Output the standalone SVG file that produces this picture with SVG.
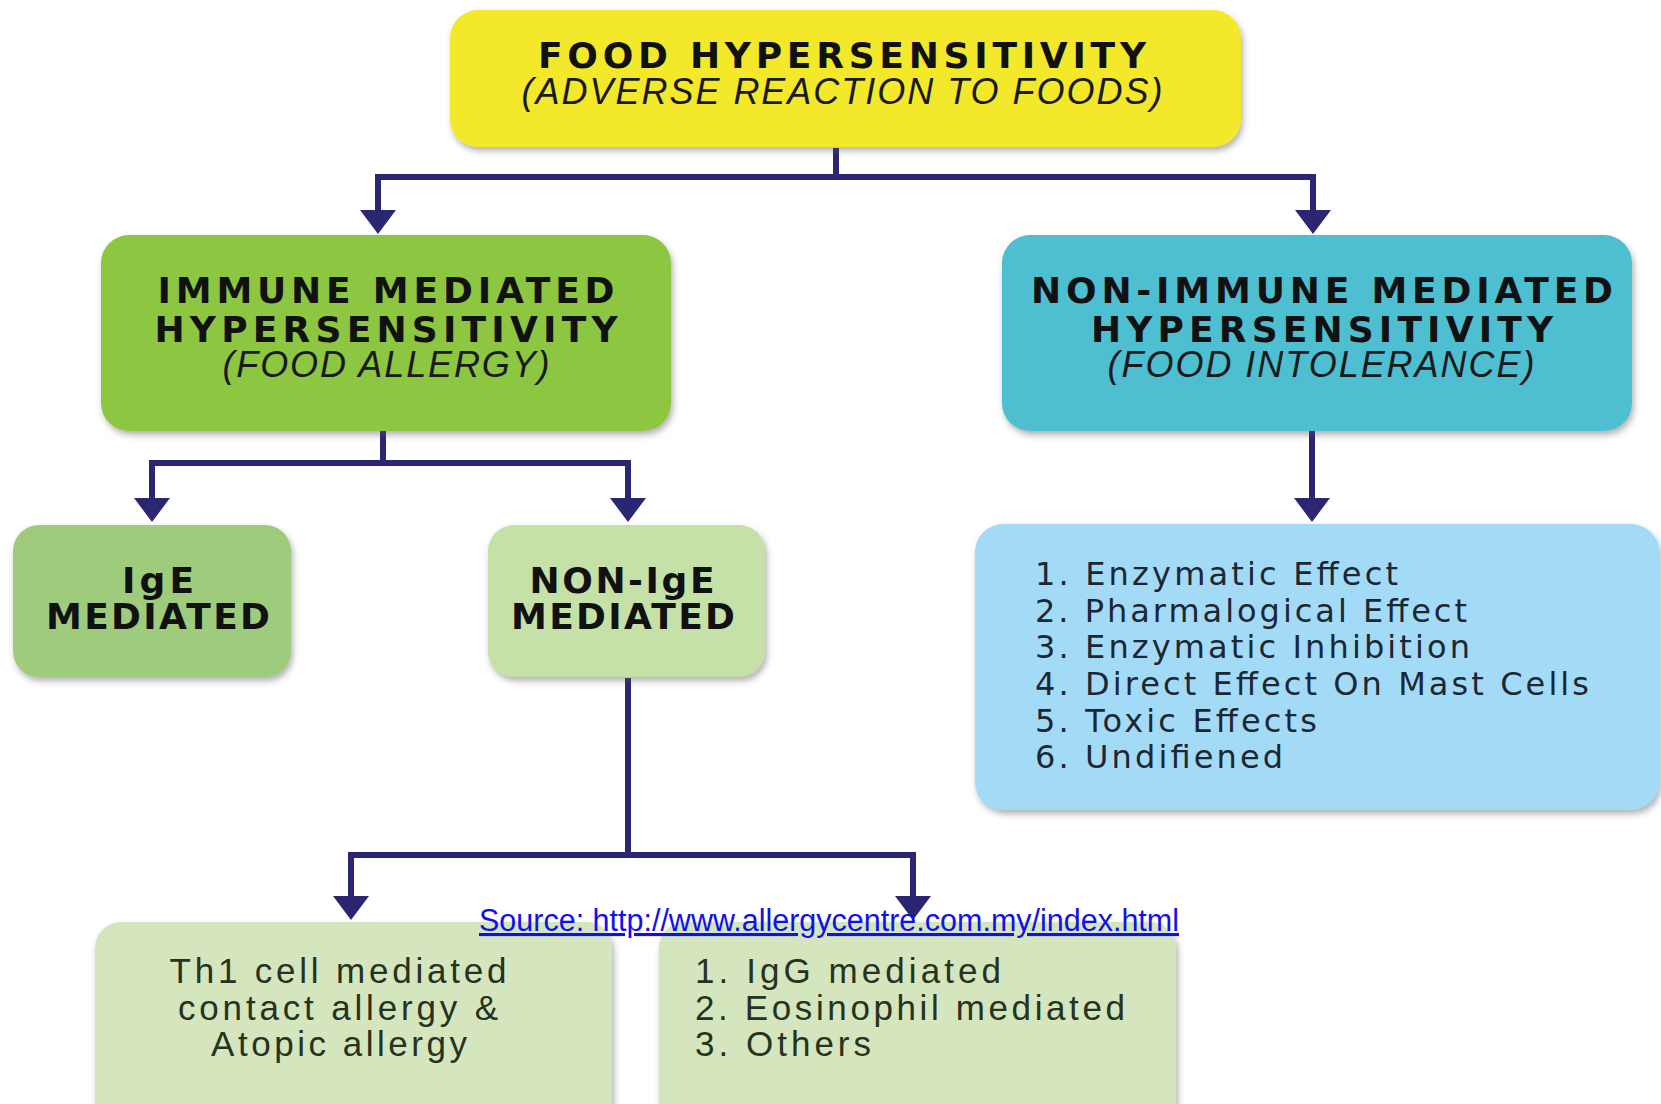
<svg xmlns="http://www.w3.org/2000/svg" width="1661" height="1104" viewBox="0 0 1661 1104">
  <defs>
    <filter id="shadow" x="-5%" y="-10%" width="112%" height="125%">
      <feDropShadow dx="2" dy="4" stdDeviation="3" flood-color="#555" flood-opacity="0.45"/>
    </filter>
    <marker id="arrow" markerUnits="userSpaceOnUse" viewBox="0 0 24 36" markerWidth="24" markerHeight="36" refX="12" refY="18" orient="auto">
      <path d="M0,0 L24,18 L0,36 Z" fill="#2b2672"/>
    </marker>
    <style>
      .box { filter: url(#shadow); }
      .head { font-family: "DejaVu Sans", Verdana, sans-serif; font-weight: bold; font-size: 36px; fill: #111; text-anchor: middle; }
      .sub { font-family: "Liberation Sans", Arial, sans-serif; font-style: italic; font-size: 36px; fill: #1a1a1a; text-anchor: middle; }
      .list { font-family: "DejaVu Sans", Verdana, sans-serif; font-size: 32px; fill: #1b2733; }
      .body { font-family: "Liberation Sans", Arial, sans-serif; font-size: 35px; fill: #263320; }
      .conn { fill: none; stroke: #2b2672; stroke-width: 6; stroke-linejoin: miter; }
      .src { font-family: "Liberation Sans", Arial, sans-serif; font-size: 31px; fill: #1010ee; text-decoration: underline; }
    </style>
  </defs>

  <rect width="1661" height="1104" fill="#ffffff"/>

  <!-- connectors -->
  <g id="connectors">
    <path class="conn" d="M836,148 V177"/>
    <path class="conn" d="M839,177 H378 V222" marker-end="url(#arrow)"/>
    <path class="conn" d="M833,177 H1313 V222" marker-end="url(#arrow)"/>
    <path class="conn" d="M383,431 V463"/>
    <path class="conn" d="M386,463 H152 V510" marker-end="url(#arrow)"/>
    <path class="conn" d="M380,463 H628 V510" marker-end="url(#arrow)"/>
    <path class="conn" d="M1312,431 V510" marker-end="url(#arrow)"/>
    <path class="conn" d="M628,678 V855"/>
    <path class="conn" d="M631,855 H351 V908" marker-end="url(#arrow)"/>
    <path class="conn" d="M625,855 H913 V908" marker-end="url(#arrow)"/>
  </g>

  <!-- top node -->
  <g id="food-hypersensitivity">
    <rect class="box" x="450" y="10" width="791" height="137" rx="28" fill="#f3e82b"/>
    <text class="head" x="842" y="68" textLength="608" lengthAdjust="spacing">FOOD HYPERSENSITIVITY</text>
    <text class="sub" x="842" y="104" textLength="641" lengthAdjust="spacing">(ADVERSE REACTION TO FOODS)</text>
  </g>

  <!-- immune mediated -->
  <g id="immune-mediated">
    <rect class="box" x="101" y="235" width="570" height="196" rx="28" fill="#8dc63f"/>
    <text class="head" x="386" y="303" textLength="457" lengthAdjust="spacing">IMMUNE MEDIATED</text>
    <text class="head" x="386" y="342" textLength="463" lengthAdjust="spacing">HYPERSENSITIVITY</text>
    <text class="sub" x="386" y="377" fill="#1f3512" textLength="327" lengthAdjust="spacing">(FOOD ALLERGY)</text>
  </g>

  <!-- non-immune mediated -->
  <g id="non-immune-mediated">
    <rect class="box" x="1002" y="235" width="630" height="196" rx="28" fill="#4dbfd1"/>
    <text class="head" x="1322" y="303" textLength="582" lengthAdjust="spacing">NON-IMMUNE MEDIATED</text>
    <text class="head" x="1322" y="342" textLength="462" lengthAdjust="spacing">HYPERSENSITIVITY</text>
    <text class="sub" x="1321" y="377" fill="#12303a" textLength="427" lengthAdjust="spacing">(FOOD INTOLERANCE)</text>
  </g>

  <!-- IgE mediated -->
  <g id="ige-mediated">
    <rect class="box" x="13" y="525" width="278" height="152" rx="26" fill="#9fcb7b"/>
    <text class="head" x="158" y="593" textLength="72" lengthAdjust="spacing">IgE</text>
    <text class="head" x="158" y="629" textLength="224" lengthAdjust="spacing">MEDIATED</text>
  </g>

  <!-- non-IgE mediated -->
  <g id="non-ige-mediated">
    <rect class="box" x="488" y="525" width="277" height="152" rx="26" fill="#c6e1a7"/>
    <text class="head" x="622" y="593" textLength="185" lengthAdjust="spacing">NON-IgE</text>
    <text class="head" x="623" y="629" textLength="224" lengthAdjust="spacing">MEDIATED</text>
  </g>

  <!-- intolerance mechanisms -->
  <g id="intolerance-list">
    <rect class="box" x="975" y="524" width="684" height="286" rx="28" fill="#a3dbf6"/>
    <text class="list" x="1035" y="585" textLength="363" lengthAdjust="spacing">1. Enzymatic Effect</text>
    <text class="list" x="1035" y="622" textLength="432" lengthAdjust="spacing">2. Pharmalogical Effect</text>
    <text class="list" x="1035" y="658" textLength="435" lengthAdjust="spacing">3. Enzymatic Inhibition</text>
    <text class="list" x="1035" y="695" textLength="554" lengthAdjust="spacing">4. Direct Effect On Mast Cells</text>
    <text class="list" x="1035" y="732" textLength="282" lengthAdjust="spacing">5. Toxic Effects</text>
    <text class="list" x="1035" y="768" textLength="248" lengthAdjust="spacing">6. Undifiened</text>
  </g>

  <!-- Th1 cell mediated -->
  <g id="th1-mediated">
    <rect class="box" x="95" y="922" width="517" height="210" rx="26" fill="#d5e6bf"/>
    <text class="body" x="338" y="983" text-anchor="middle" textLength="337" lengthAdjust="spacing">Th1 cell mediated</text>
    <text class="body" x="338" y="1020" text-anchor="middle" textLength="320" lengthAdjust="spacing">contact allergy &amp;</text>
    <text class="body" x="339" y="1056" text-anchor="middle" textLength="256" lengthAdjust="spacing">Atopic allergy</text>
  </g>

  <!-- other non-IgE mechanisms -->
  <g id="other-non-ige">
    <rect class="box" x="659" y="922" width="517" height="210" rx="26" fill="#d5e6bf"/>
    <text class="body" x="695" y="983" textLength="306" lengthAdjust="spacing">1. IgG mediated</text>
    <text class="body" x="695" y="1020" textLength="430" lengthAdjust="spacing">2. Eosinophil mediated</text>
    <text class="body" x="695" y="1056" textLength="176" lengthAdjust="spacing">3. Others</text>
  </g>

  <!-- source reference -->
  <text class="src" x="479" y="931" textLength="700" lengthAdjust="spacingAndGlyphs">Source: http://www.allergycentre.com.my/index.html</text>
</svg>
